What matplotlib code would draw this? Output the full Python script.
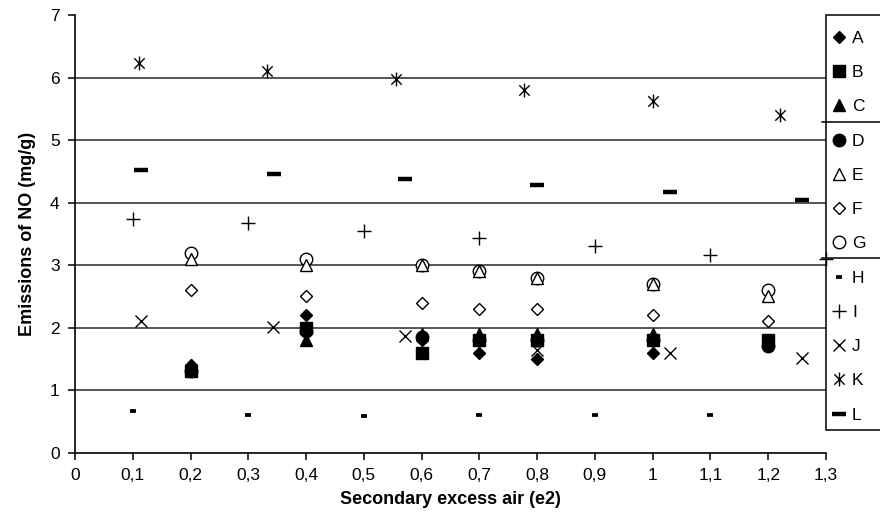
import numpy as np
import matplotlib
matplotlib.use('Agg')
import matplotlib.pyplot as plt
from matplotlib.path import Path
from matplotlib.lines import Line2D
from matplotlib.patches import Rectangle

plt.rcParams['font.family'] = ['Liberation Sans', 'DejaVu Sans']

# values
x_main = [0.2, 0.4, 0.6, 0.7, 0.8, 1.0, 1.2]
A = [1.4, 2.2, 1.8, 1.6, 1.5, 1.6, 1.8]
B = [1.3, 2.0, 1.6, 1.8, 1.8, 1.8, 1.8]
C = [1.4, 1.8, 1.9, 1.9, 1.9, 1.9, 1.8]
D = [1.3, 1.95, 1.85, 1.8, 1.8, 1.8, 1.7]
E = [3.1, 3.0, 3.0, 2.9, 2.8, 2.7, 2.5]
F = [2.6, 2.5, 2.4, 2.3, 2.3, 2.2, 2.1]
G = [3.2, 3.1, 3.0, 2.9, 2.8, 2.7, 2.6]

x_H = [0.1, 0.3, 0.5, 0.7, 0.9, 1.1]
H = [0.66, 0.61, 0.59, 0.60, 0.60, 0.60]
x_I = [0.1, 0.3, 0.5, 0.7, 0.9, 1.1, 1.3]
I = [3.73, 3.67, 3.55, 3.43, 3.31, 3.16, 3.1]
x_J = [0.114, 0.343, 0.572, 0.80, 1.03, 1.258]
J = [2.1, 2.01, 1.86, 1.65, 1.6, 1.51]
x_K = [0.111, 0.333, 0.555, 0.777, 1.0, 1.221]
K = [6.23, 6.11, 5.97, 5.80, 5.62, 5.40]
x_L = [0.114, 0.344, 0.572, 0.80, 1.03, 1.258]
L = [4.52, 4.46, 4.38, 4.28, 4.17, 4.04]

xticks = np.round(np.arange(0, 1.31, 0.1), 1)
xlabels = [('%g' % v).replace('.', ',') for v in xticks]

# asterisk: X with a vertical bar
star = Path([(0, -1), (0, 1), (-0.75, -0.75), (0.75, 0.75), (-0.75, 0.75), (0.75, -0.75)],
            [Path.MOVETO, Path.LINETO, Path.MOVETO, Path.LINETO, Path.MOVETO, Path.LINETO])

styles = {
    'A': dict(marker='D', ms=6.5, mfc='black', mec='black'),
    'B': dict(marker='s', ms=8.5, mfc='black', mec='black'),
    'C': dict(marker='^', ms=9, mfc='black', mec='black'),
    'D': dict(marker='o', ms=9, mfc='black', mec='black'),
    'E': dict(marker='^', ms=9, mfc='white', mec='black', mew=1),
    'F': dict(marker='D', ms=6.5, mfc='white', mec='black', mew=1),
    'G': dict(marker='o', ms=9, mfc='white', mec='black', mew=1),
    'H': dict(marker='_', ms=5, mec='black', mew=2.7),
    'I': dict(marker='+', ms=9.5, mec='black', mew=1),
    'J': dict(marker='x', ms=9, mec='black', mew=1),
    'K': dict(marker=star, ms=10, mfc='none', mec='black', mew=1),
    'L': dict(marker='_', ms=10.5, mec='black', mew=3.2),
}

series = [('J', x_J, J), ('I', x_I, I), ('H', x_H, H), ('K', x_K, K), ('L', x_L, L),
          ('G', x_main, G), ('E', x_main, E), ('F', x_main, F),
          ('D', x_main, D), ('C', x_main, C), ('B', x_main, B), ('A', x_main, A)]

fig = plt.figure(figsize=(8.8, 5.2), dpi=100)
ax = fig.add_axes([75 / 880, 1 - 452.7 / 520, (826 - 75) / 880, (452.7 - 15) / 520])

for name, xs, ys in series:
    ax.plot(xs, ys, linestyle='none', zorder=4, clip_on=False, **styles[name])

ax.set_xlim(0, 1.3)
ax.set_ylim(0, 7)
ax.set_xticks(xticks)
ax.set_xticklabels(xlabels)
ax.set_yticks(range(8))
for yv in range(1, 7):
    ax.axhline(yv, color='#3a3a3a', lw=1.2, zorder=1)

ax.spines['top'].set_visible(False)
ax.spines['right'].set_visible(False)
ax.spines['left'].set_linewidth(1.2)
ax.spines['bottom'].set_linewidth(1.2)
ax.tick_params(direction='out', length=5, width=1.1, labelsize=12.5, pad=6)

ax.set_xlabel('Secondary excess air (e2)', fontsize=13, fontweight='bold', labelpad=6)
ax.set_ylabel('Emissions of NO (mg/g)', fontsize=13, fontweight='bold', labelpad=10)

# legend box, running off the right edge, with two separators
ax.add_patch(Rectangle((826 / 880, 1 - 430 / 520), 60 / 880, (430 - 15) / 520,
                       transform=fig.transFigure, facecolor='white',
                       edgecolor='black', lw=1.1, zorder=1.5, clip_on=False))
for yp in (122, 258):
    ax.add_line(Line2D([822 / 880, 1.0], [1 - yp / 520, 1 - yp / 520],
                       transform=fig.transFigure, color='black', lw=1.1,
                       zorder=1.6, clip_on=False))

handles = [Line2D([], [], linestyle='none', **styles[n]) for n in 'ABCDEFGHIJKL']
leg = ax.legend(handles, list('ABCDEFGHIJKL'), loc='upper left',
                bbox_to_anchor=(1.0, 0.976), frameon=False, fontsize=12.5,
                handlelength=0.9, handletextpad=0.3, labelspacing=1.1,
                borderpad=0.3, borderaxespad=0)
leg.set_zorder(2)

fig.savefig('out.png', dpi=100)
